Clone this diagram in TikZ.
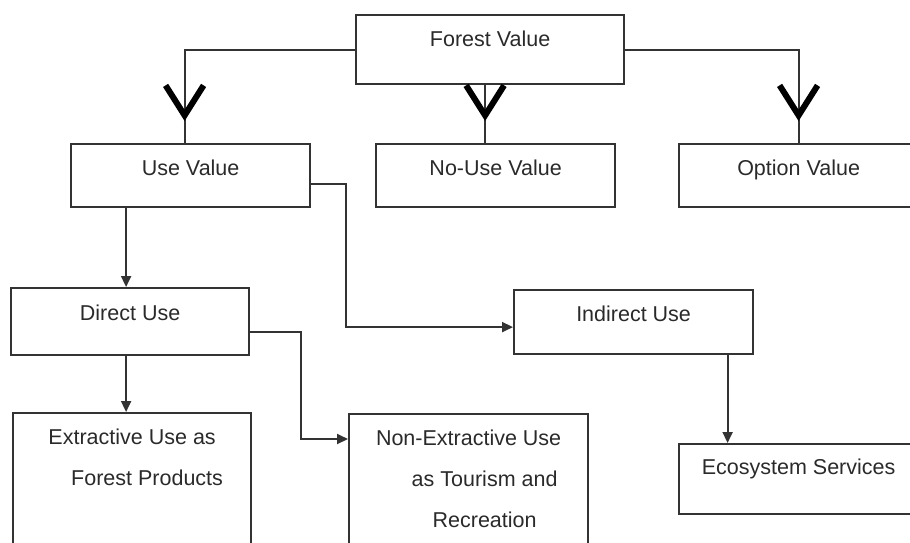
\documentclass[tikz,border=0pt]{standalone}
\usepackage{fontspec}
\setmainfont{Liberation Sans}
\usetikzlibrary{positioning, arrows.meta, decorations.markings, calc}
\definecolor{ink}{HTML}{2A2A2A}
\definecolor{edge}{HTML}{333333}

\begin{document}
\begin{tikzpicture}[x=1pt, y=-1pt,
  box/.style={draw=edge, line width=2.2pt, anchor=north west, inner sep=0pt,
    minimum width=239pt, text height=31pt, text depth=33pt, align=center,
    text=ink, font=\fontsize{21.5}{41}\selectfont},
  link/.style={draw=edge, line width=2pt, -{Triangle[length=11pt,width=10pt]}},
  bigv/.style={draw=edge, line width=2pt, postaction={decorate},
    decoration={markings, mark=at position -22pt with
      {\arrow[black]{Straight Barb[length=30pt,width=38pt,line width=6pt]}}}}]
  \useasboundingbox (0,0) rectangle (910,542);
  \clip (0,0) rectangle (910,542);
  \def\sh{-6pt}
  \node[box, minimum width=268pt, text depth=38pt] (fv) at (355,14) {Forest Value};
  \node[box, text depth=32pt] (uv) at (70,143)  {Use Value};
  \node[box, text depth=32pt] (nu) at (375,143) {No-Use Value};
  \node[box, text depth=32pt] (ov) at (678,143) {Option Value};
  \node[box, minimum width=238pt, text height=32pt, text depth=35pt] (du) at (10,287) {Direct Use};
  \node[box] (iu) at (513,289) {Indirect Use};
  \node[box, minimum width=238pt, text height=72pt, text depth=150pt] (ex) at (12,412)
    {Extractive Use as\\\hspace*{30pt}Forest Products};
  \node[box, text height=113pt, text depth=150pt] (ne) at (348,413)
    {Non-Extractive Use\\\hspace*{32pt}as Tourism and\\\hspace*{32pt}Recreation};
  \node[box, text height=30pt, text depth=40pt] (es) at (678,443) {Ecosystem Services};
  \draw[bigv] (fv.west) -| ([xshift=\sh]uv.north);
  \draw[bigv] (fv.east) -| (ov.north);
  \draw[bigv] ([xshift=-5pt]fv.south) -- ([xshift=-5pt]fv.south |- nu.north);
  \draw[link] ([xshift=-4pt]du.north |- uv.south) -- ([xshift=-4pt]du.north);
  \draw[link] ([yshift=-8pt]uv.east) -- ++(35,0) |- ([yshift=-5pt]iu.west);
  \draw[link] ([xshift=-4pt]du.north |- du.south) -- ([xshift=-4pt]du.north |- ex.north);
  \draw[link] ([yshift=-10pt]du.east) -- ++(51,0) |- ([yshift=-26pt]ne.north west);
  \draw[link] ([xshift=94pt]iu.south) -- ([xshift=94pt]iu.south |- es.north);
\end{tikzpicture}
\end{document}
